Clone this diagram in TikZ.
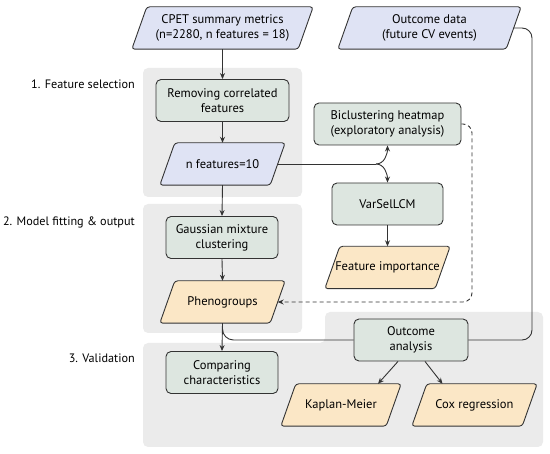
\documentclass[tikz,border=0pt]{standalone}
\usepackage{fontspec}
\setmainfont{PT Sans}
\usetikzlibrary{calc,arrows.meta}
\definecolor{panelG}{HTML}{EBEBEB}
\definecolor{blueF}{HTML}{DFE3F4}
\definecolor{greenF}{HTML}{DDE6E0}
\definecolor{peachF}{HTML}{FBE7C6}
\definecolor{lineC}{HTML}{333333}
\pgfdeclarelayer{bg}\pgfdeclarelayer{mid}\pgfsetlayers{bg,mid,main}
\begin{document}
\begin{tikzpicture}[x=1pt,y=-1pt, font=\fontsize{12.5}{15}\selectfont,
 rbox/.style={draw=lineC, line width=0.9pt, fill=greenF, rounded corners=5pt, align=center, minimum height=42pt, inner sep=0pt},
 pnode/.style={align=center, minimum height=42pt, inner sep=0pt},
 pshape/.style={draw=lineC, line width=0.9pt, rounded corners=3pt},
 conn/.style={draw=lineC, line width=0.9pt},
 arr/.style={conn, -{Stealth[length=6pt,width=5pt]}},
 panel/.style={fill=panelG, rounded corners=5pt},
 lab/.style={anchor=east, inner sep=0pt, font=\fontsize{12.2}{15}\selectfont}]
\useasboundingbox (0,0) rectangle (550,454);

% panels
\begin{pgfonlayer}{bg}
\fill[panel] (143,68) rectangle (302,197);
\fill[panel] (143,204) rectangle (302,333);
\fill[panel] (143,343) -- (325,343) -- (325,312) -- (543,312) -- (543,447) -- (143,447) -- cycle;
\end{pgfonlayer}

% labels
\node[lab] (l1) at (135,84) {1. Feature selection};
\node[lab] (l2) at (135,222) {2. Model fitting \& output};
\node[lab] (l3) at (135,358) {3. Validation};

% parallelogram nodes (text only; shapes drawn below)
\node[pnode, minimum width=166pt] (cpet) at (222.5,28) {CPET summary metrics\\(n=2280, n features = 18)};
\node[pnode, minimum width=168pt] (od) at (429.5,28) {Outcome data\\(future CV events)};
\node[pnode, minimum width=110pt] (nf) at (222.5,164) {n features=10};
\node[pnode, minimum width=110pt] (phen) at (222.5,302) {Phenogroups};
\node[pnode, minimum width=110pt] (fi) at (387.5,267.5) {Feature importance};
\node[pnode, minimum width=105pt] (km) at (341,405) {Kaplan-Meier};
\node[pnode, minimum width=110pt] (cox) at (474.5,405) {Cox regression};

% rounded boxes
\node[rbox, minimum width=133pt] (rem) at (222.5,100.5) {Removing correlated\\features};
\node[rbox, minimum width=147pt] (bic) at (387.5,124) {Biclustering heatmap\\(exploratory analysis)};
\node[rbox, minimum width=111pt] (vs) at (387.5,204) {VarSelLCM};
\node[rbox, minimum width=112pt] (gmc) at (222,237.5) {Gaussian mixture\\clustering};
\node[rbox, minimum width=112pt] (cmp) at (222,372.5) {Comparing\\characteristics};
\node[rbox, minimum width=114pt] (oa) at (411,340) {Outcome\\analysis};

\begin{pgfonlayer}{mid}
\foreach \n/\c in {cpet/blueF, od/blueF, nf/blueF, phen/peachF, fi/peachF, km/peachF, cox/peachF}{
 \draw[pshape, fill=\c] ($(\n.north west)+(7.5,0)$) -- ($(\n.north east)+(7.5,0)$) -- ($(\n.south east)+(-7.5,0)$) -- ($(\n.south west)+(-7.5,0)$) -- cycle;
}
\end{pgfonlayer}

% connectors
\coordinate (split) at (376,164);
\coordinate (dx) at (472,0);
\coordinate (ox) at (532,0);
\draw[arr] (cpet.south) -- (rem.north);
\draw[arr] (rem.south) -- (nf.north);
\draw[arr] (nf.south) -- (gmc.north);
\draw[arr] (gmc.south) -- (phen.north);
\draw[arr] (phen.south) -- (cmp.north);
\draw[conn] (nf.east) -- (split);
\draw[arr] (split) to[out=0,in=-90] (bic.south);
\draw[arr] (split) to[out=0,in=90] (vs.north);
\draw[arr] (vs.south) -- (fi.north);
\draw[arr, dashed, dash pattern=on 4pt off 3pt, rounded corners=9pt] (bic.east) -- (bic.east -| dx) -- (phen.east -| dx) -- (phen.east);
\draw[conn, rounded corners=10pt] (od.east) -- (od.east -| ox) -- (oa.east -| ox) -- (oa.east);
\draw[conn, rounded corners=11pt] (phen.south) -- (phen.south |- oa.west) -- (oa.west);
\draw[arr] ([xshift=-13pt]oa.south) -- ([xshift=37pt]km.north);
\draw[arr] ([xshift=14pt]oa.south) -- ([xshift=-32pt]cox.north);
\end{tikzpicture}
\end{document}
